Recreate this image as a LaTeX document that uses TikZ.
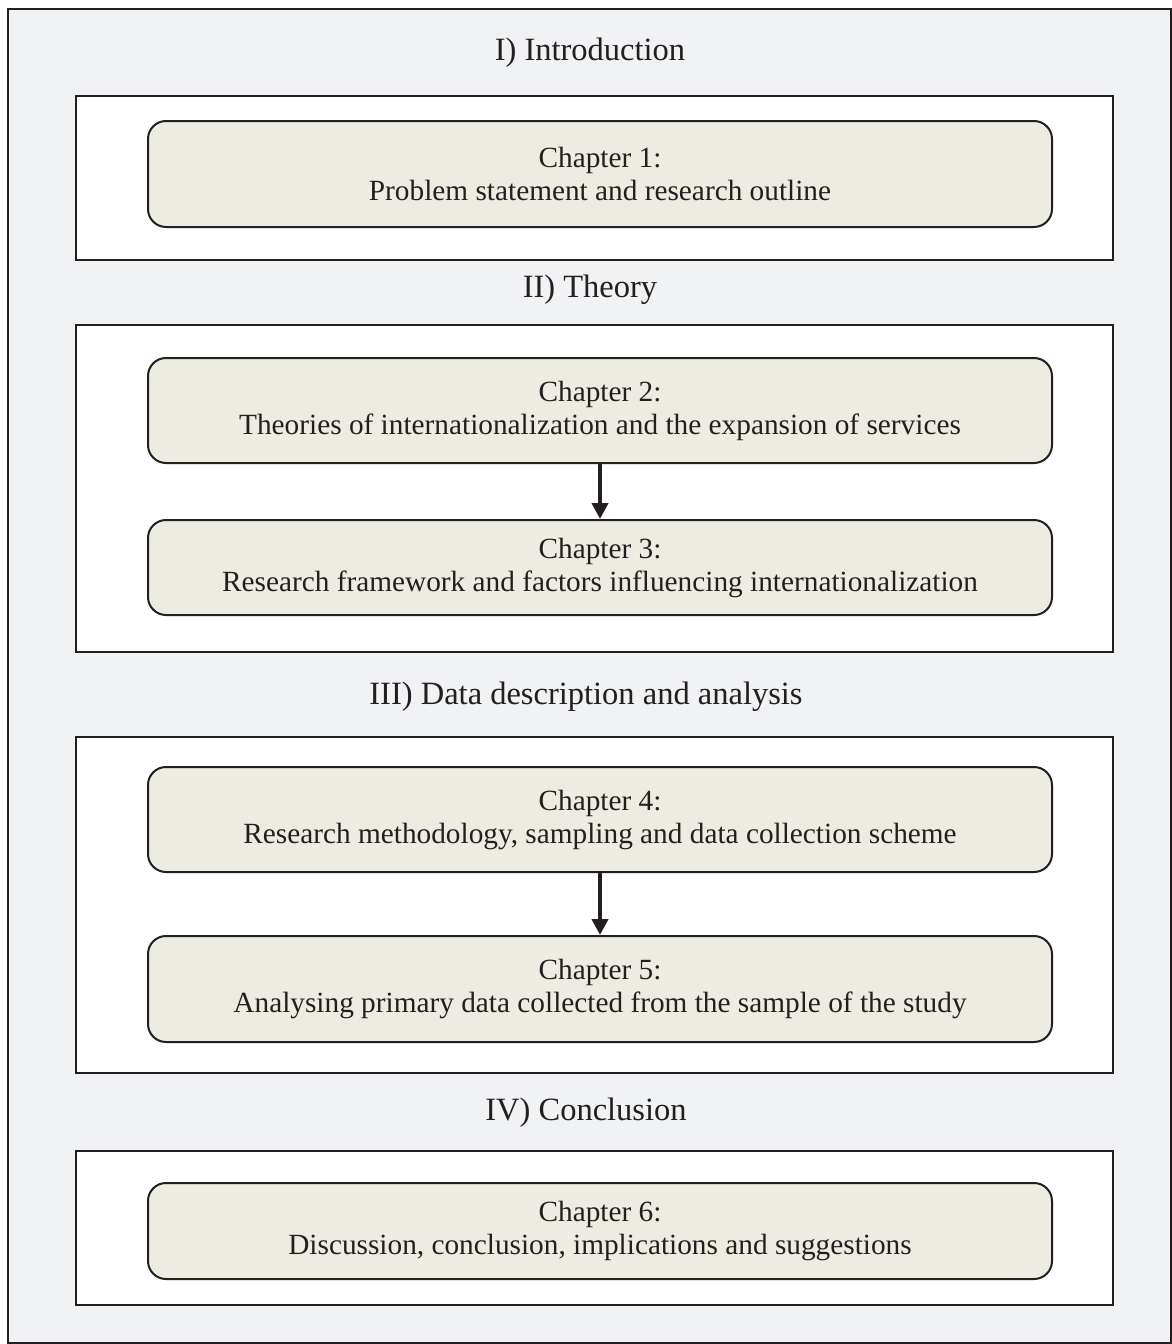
\documentclass[tikz,border=0pt]{standalone}
\usepackage{fontspec}
\setmainfont{Liberation Serif}
\usetikzlibrary{arrows.meta}
\definecolor{bgc}{HTML}{F1F2F4}
\definecolor{chfill}{HTML}{ECECE2}
\definecolor{ink}{HTML}{231F20}
\tikzset{
  partbox/.style={draw=ink, line width=2pt, fill=white},
  chbox/.style={draw=ink, line width=2pt, fill=chfill, rounded corners=18pt},
  chtext/.style={font=\fontsize{29.3}{33}\selectfont, align=center, text=ink},
  ttext/.style={font=\fontsize{32.5}{36}\selectfont, text=ink},
  flow/.style={draw=ink, line width=4.5pt, -{Triangle[length=16pt,width=16pt]}}
}
\begin{document}
\begin{tikzpicture}[x=1pt,y=-1pt]
\useasboundingbox (0,0) rectangle (1172,1344);
\draw[draw=ink, line width=2pt, fill=bgc] (8,9) rectangle (1171,1343);
% part boxes
\draw[partbox] (76,96) rectangle (1113,260);
\draw[partbox] (76,325) rectangle (1113,652);
\draw[partbox] (76,737) rectangle (1113,1073);
\draw[partbox] (76,1151) rectangle (1113,1305);
% titles
\node[ttext] (t1) at (590,53) {I) Introduction};
\node[ttext] (t2) at (590,290) {II) Theory};
\node[ttext] (t3) at (586,697) {III) Data description and analysis};
\node[ttext] (t4) at (586,1113) {IV) Conclusion};
% chapters
\node[chbox, minimum width=904pt, minimum height=106pt, chtext] (c1) at (600,174) {Chapter 1:\\Problem statement and research outline};
\node[chbox, minimum width=904pt, minimum height=105pt, chtext] (c2) at (600,410.5) {Chapter 2:\\Theories of internationalization and the expansion of services};
\node[chbox, minimum width=904pt, minimum height=95pt, chtext] (c3) at (600,567.5) {Chapter 3:\\Research framework and factors influencing internationalization};
\node[chbox, minimum width=904pt, minimum height=105pt, chtext] (c4) at (600,819.5) {Chapter 4:\\Research methodology, sampling and data collection scheme};
\node[chbox, minimum width=904pt, minimum height=106pt, chtext] (c5) at (600,989) {Chapter 5:\\Analysing primary data collected from the sample of the study};
\node[chbox, minimum width=904pt, minimum height=96pt, chtext] (c6) at (600,1231) {Chapter 6:\\Discussion, conclusion, implications and suggestions};
% arrows
\draw[flow] (c2.south) -- (c3.north);
\draw[flow] (c4.south) -- (c5.north);
\end{tikzpicture}
\end{document}
